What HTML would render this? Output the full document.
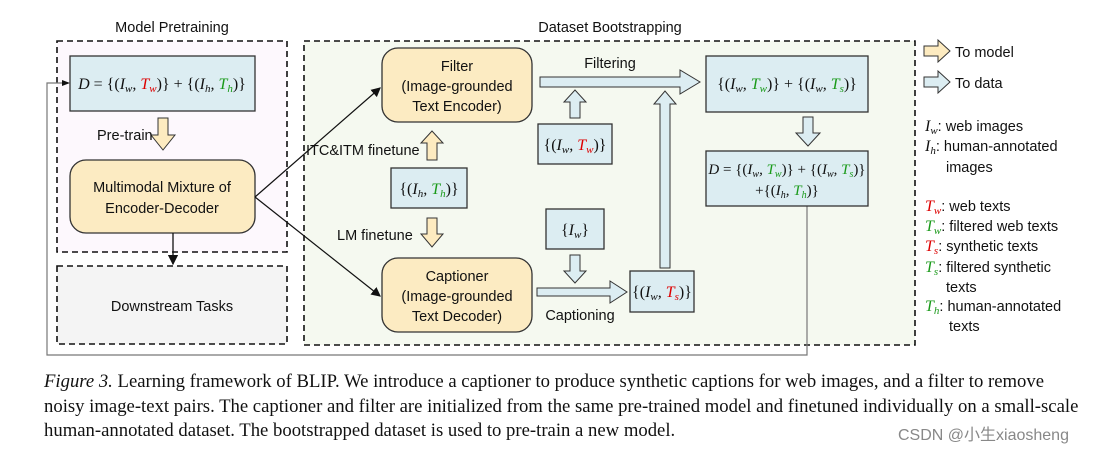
<!DOCTYPE html>
<html><head><meta charset="utf-8"><style>
body{margin:0;background:#fff;width:1117px;height:450px;overflow:hidden;position:relative}
svg{position:absolute;left:0;top:0}
.s{font-family:"Liberation Sans",sans-serif;font-size:14.5px;fill:#111}
.m{font-family:"Liberation Serif",serif;font-size:16px;fill:#111}
.m2{font-family:"Liberation Serif",serif;font-size:15px;fill:#111}
.r{fill:#d00}.g{fill:#1a9a1a}
.cap{position:absolute;left:44px;top:370px;width:1070px;font-family:"Liberation Serif",serif;font-size:18.7px;line-height:24.5px;color:#111;white-space:nowrap}
.wm{position:absolute;left:898px;top:421px;font-family:"Liberation Sans","Noto Sans CJK SC",sans-serif;font-size:16px;color:#888}
</style></head><body>
<svg width="1117" height="370" viewBox="0 0 1117 370">
<defs><marker id="a" markerWidth="8" markerHeight="8" refX="7" refY="4" orient="auto"><path d="M0,0 L8,4 L0,8 z" fill="#111"/></marker></defs>
<rect x="57" y="41" width="230" height="211" fill="#fdf8fd" stroke="#111" stroke-width="1.6" stroke-dasharray="6,4"/>
<rect x="57" y="266" width="230" height="78" fill="#f4f4f4" stroke="#111" stroke-width="1.6" stroke-dasharray="6,4"/>
<rect x="304" y="41" width="611" height="304" fill="#f5f9f0" stroke="#111" stroke-width="1.6" stroke-dasharray="6,4"/>
<text class="s" x="172" y="32" text-anchor="middle">Model Pretraining</text>
<text class="s" x="610" y="32" text-anchor="middle">Dataset Bootstrapping</text>
<polyline points="807,205 807,355 47,355 47,83 68,83" fill="none" stroke="#777" stroke-width="1.2"/>
<path d="M62,80 L70,83 L62,86z" fill="#111"/>
<rect x="70" y="56" width="185" height="55" fill="#dcedf2" stroke="#333" stroke-width="1.3"/>
<text class="m" x="162" y="89" text-anchor="middle"><tspan font-style="italic">D</tspan> = {(<tspan font-style="italic">I<tspan font-size="11" dy="3">w</tspan><tspan dy="-3">, </tspan></tspan><tspan class="r" font-style="italic">T<tspan font-size="11" dy="3">w</tspan></tspan><tspan dy="-3">)} + {(</tspan><tspan font-style="italic">I<tspan font-size="11" dy="3">h</tspan><tspan dy="-3">, </tspan></tspan><tspan class="g" font-style="italic">T<tspan font-size="11" dy="3">h</tspan></tspan><tspan dy="-3">)}</tspan></text>
<path d="M158,118 h10 v17 h7 l-12,15 l-12,-15 h7z" fill="#fdebc0" stroke="#333"/>
<text class="s" x="97" y="140">Pre-train</text>
<rect x="70" y="160" width="185" height="73" rx="16" fill="#fcebc2" stroke="#333" stroke-width="1.3"/>
<text class="s" x="162" y="192" text-anchor="middle">Multimodal Mixture of</text>
<text class="s" x="162" y="213" text-anchor="middle">Encoder-Decoder</text>
<line x1="173" y1="233" x2="173" y2="264" stroke="#111" stroke-width="1.3" marker-end="url(#a)"/>
<text class="s" x="172" y="311" text-anchor="middle">Downstream Tasks</text>
<line x1="255" y1="197" x2="380" y2="88" stroke="#111" stroke-width="1.2" marker-end="url(#a)"/>
<line x1="255" y1="197" x2="380" y2="296" stroke="#111" stroke-width="1.2" marker-end="url(#a)"/>
<rect x="382" y="48" width="150" height="74" rx="16" fill="#fcebc2" stroke="#333" stroke-width="1.3"/>
<text class="s" x="457" y="71" text-anchor="middle">Filter</text>
<text class="s" x="457" y="91" text-anchor="middle">(Image-grounded</text>
<text class="s" x="457" y="111" text-anchor="middle">Text Encoder)</text>
<rect x="382" y="258" width="150" height="74" rx="16" fill="#fcebc2" stroke="#333" stroke-width="1.3"/>
<text class="s" x="457" y="281" text-anchor="middle">Captioner</text>
<text class="s" x="457" y="301" text-anchor="middle">(Image-grounded</text>
<text class="s" x="457" y="321" text-anchor="middle">Text Decoder)</text>
<path d="M427,160 v-17 h-6 l11,-12 l11,12 h-6 v17z" fill="#fdebc0" stroke="#333"/>
<text class="s" x="306" y="155">ITC&amp;ITM finetune</text>
<rect x="391" y="168" width="76" height="40" fill="#dcedf2" stroke="#333" stroke-width="1.3"/>
<text class="m" x="429" y="194" text-anchor="middle">{(<tspan font-style="italic">I<tspan font-size="11" dy="3">h</tspan><tspan dy="-3">, </tspan></tspan><tspan class="g" font-style="italic">T<tspan font-size="11" dy="3">h</tspan></tspan><tspan dy="-3">)}</tspan></text>
<path d="M427,218 h10 v16 h6 l-11,13 l-11,-13 h6z" fill="#fdebc0" stroke="#333"/>
<text class="s" x="337" y="240">LM finetune</text>
<path d="M540,77 h140 v-7 l20,12 l-20,12 v-7 h-140z" fill="#dcedf2" stroke="#333"/>
<text class="s" x="610" y="68" text-anchor="middle">Filtering</text>
<path d="M570,118 v-16 h-6 l11,-12 l11,12 h-6 v16z" fill="#dcedf2" stroke="#333"/>
<rect x="538" y="124" width="74" height="40" fill="#dcedf2" stroke="#333" stroke-width="1.3"/>
<text class="m" x="575" y="150" text-anchor="middle">{(<tspan font-style="italic">I<tspan font-size="11" dy="3">w</tspan><tspan dy="-3">, </tspan></tspan><tspan class="r" font-style="italic">T<tspan font-size="11" dy="3">w</tspan></tspan><tspan dy="-3">)}</tspan></text>
<rect x="546" y="209" width="58" height="40" fill="#dcedf2" stroke="#333" stroke-width="1.3"/>
<text class="m" x="575" y="235" text-anchor="middle">{<tspan font-style="italic">I<tspan font-size="11" dy="3">w</tspan></tspan><tspan dy="-3">}</tspan></text>
<path d="M570,255 h10 v16 h6 l-11,12 l-11,-12 h6z" fill="#dcedf2" stroke="#333"/>
<path d="M537,288 h73 v-7 l17,11 l-17,11 v-7 h-73z" fill="#dcedf2" stroke="#333"/>
<text class="s" x="580" y="320" text-anchor="middle">Captioning</text>
<rect x="630" y="271" width="64" height="41" fill="#dcedf2" stroke="#333" stroke-width="1.3"/>
<text class="m" x="662" y="297" text-anchor="middle">{(<tspan font-style="italic">I<tspan font-size="11" dy="3">w</tspan><tspan dy="-3">, </tspan></tspan><tspan class="r" font-style="italic">T<tspan font-size="11" dy="3">s</tspan></tspan><tspan dy="-3">)}</tspan></text>
<path d="M660,268 v-164 h-6 l11,-13 l11,13 h-6 v164z" fill="#dcedf2" stroke="#333"/>
<rect x="706" y="56" width="162" height="56" fill="#dcedf2" stroke="#333" stroke-width="1.3"/>
<text class="m" x="787" y="89" text-anchor="middle">{(<tspan font-style="italic">I<tspan font-size="11" dy="3">w</tspan><tspan dy="-3">, </tspan></tspan><tspan class="g" font-style="italic">T<tspan font-size="11" dy="3">w</tspan></tspan><tspan dy="-3">)} + {(</tspan><tspan font-style="italic">I<tspan font-size="11" dy="3">w</tspan><tspan dy="-3">, </tspan></tspan><tspan class="g" font-style="italic">T<tspan font-size="11" dy="3">s</tspan></tspan><tspan dy="-3">)}</tspan></text>
<path d="M803,117 h10 v16 h7 l-12,13 l-12,-13 h7z" fill="#dcedf2" stroke="#333"/>
<rect x="706" y="151" width="162" height="55" fill="#dcedf2" stroke="#333" stroke-width="1.3"/>
<text class="m2" x="787" y="174" text-anchor="middle"><tspan font-style="italic">D</tspan> = {(<tspan font-style="italic">I<tspan font-size="10" dy="3">w</tspan><tspan dy="-3">, </tspan></tspan><tspan class="g" font-style="italic">T<tspan font-size="10" dy="3">w</tspan></tspan><tspan dy="-3">)} + {(</tspan><tspan font-style="italic">I<tspan font-size="10" dy="3">w</tspan><tspan dy="-3">, </tspan></tspan><tspan class="g" font-style="italic">T<tspan font-size="10" dy="3">s</tspan></tspan><tspan dy="-3">)}</tspan></text>
<text class="m2" x="787" y="195" text-anchor="middle">+{(<tspan font-style="italic">I<tspan font-size="10" dy="3">h</tspan><tspan dy="-3">, </tspan></tspan><tspan class="g" font-style="italic">T<tspan font-size="10" dy="3">h</tspan></tspan><tspan dy="-3">)}</tspan></text>
<path d="M924,46 h14 v-6 l12,11 l-12,11 v-6 h-14z" fill="#fdebc0" stroke="#333"/>
<text class="s" x="955" y="57">To model</text>
<path d="M924,77 h14 v-6 l12,11 l-12,11 v-6 h-14z" fill="#dcedf2" stroke="#333"/>
<text class="s" x="955" y="88">To data</text>
<g class="s">
<text x="925" y="131"><tspan class="m" font-style="italic">I<tspan font-size="11" dy="3">w</tspan></tspan><tspan dy="-3">: web images</tspan></text>
<text x="925" y="151"><tspan class="m" font-style="italic">I<tspan font-size="11" dy="3">h</tspan></tspan><tspan dy="-3">: human-annotated</tspan></text>
<text x="946" y="172">images</text>
<text x="925" y="211"><tspan class="m r" font-style="italic">T<tspan font-size="11" dy="3">w</tspan></tspan><tspan dy="-3">: web texts</tspan></text>
<text x="925" y="231"><tspan class="m g" font-style="italic">T<tspan font-size="11" dy="3">w</tspan></tspan><tspan dy="-3">: filtered web texts</tspan></text>
<text x="925" y="251"><tspan class="m r" font-style="italic">T<tspan font-size="11" dy="3">s</tspan></tspan><tspan dy="-3">: synthetic texts</tspan></text>
<text x="925" y="272"><tspan class="m g" font-style="italic">T<tspan font-size="11" dy="3">s</tspan></tspan><tspan dy="-3">: filtered synthetic</tspan></text>
<text x="946" y="292">texts</text>
<text x="925" y="311"><tspan class="m g" font-style="italic">T<tspan font-size="11" dy="3">h</tspan></tspan><tspan dy="-3">: human-annotated</tspan></text>
<text x="949" y="331">texts</text>
</g>
</svg>
<div class="cap"><i>Figure 3.</i> Learning framework of BLIP. We introduce a captioner to produce synthetic captions for web images, and a filter to remove<br>noisy image-text pairs. The captioner and filter are initialized from the same pre-trained model and finetuned individually on a small-scale<br>human-annotated dataset. The bootstrapped dataset is used to pre-train a new model.</div>
<div class="wm">CSDN @小生xiaosheng</div>
</body></html>
